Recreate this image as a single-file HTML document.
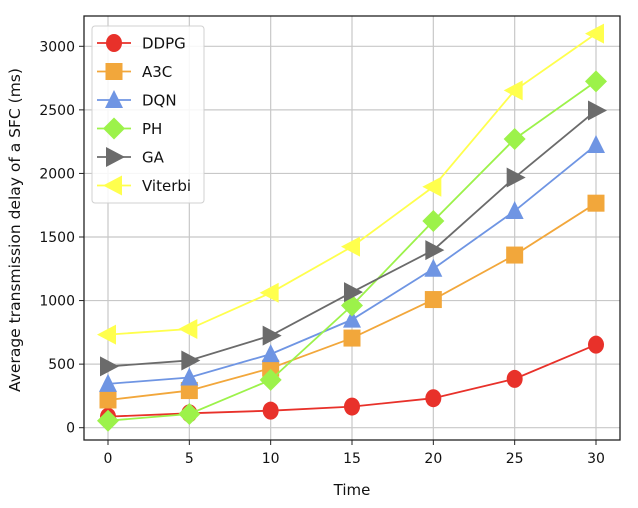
<!DOCTYPE html>
<html><head><meta charset="utf-8"><style>
body{margin:0;background:#fff}
svg{display:block;font-family:"DejaVu Sans","Liberation Sans",sans-serif}
</style></head><body>
<svg id="chart" width="638" height="508" viewBox="0 0 638 508">
<g id="grid"></g>
<g id="series"></g>
<rect x="84" y="16" width="536" height="424" fill="none" stroke="#222" stroke-width="1.3"/>
<g id="ticks"></g>
<text x="352" y="495" font-size="15" text-anchor="middle" fill="#111">Time</text>
<text x="0" y="0" font-size="15.5" text-anchor="middle" fill="#111" transform="translate(20,230) rotate(-90)">Average transmission delay of a SFC (ms)</text>
<g id="legend"></g>
</svg>
<script>
const categories=[0,5,10,15,20,25,30];
const xTicks=[0,5,10,15,20,25,30];
const yTicks=[0,500,1000,1500,2000,2500,3000];
const seriesNames=["DDPG","A3C","DQN","PH","GA","Viterbi"];
const ddpg=[87,113,134,166,232,384,653];
const a3c=[218,292,468,705,1008,1358,1766];
const dqn=[345,395,579,850,1250,1705,2224];
const ph=[55,108,376,961,1626,2271,2724];
const ga=[482,529,724,1066,1397,1968,2495];
const viterbi=[732,776,1061,1424,1895,2653,3100];
const colors=["#e8312a","#f2a73b","#6f95e3","#9cf24a","#6b6b6b","#ffff4d"];
const markers=["circle","square","tri-up","diamond","tri-right","tri-left"];
const allSeries=[ddpg,a3c,dqn,ph,ga,viterbi];
const NS="http://www.w3.org/2000/svg";
function xS(v){return 108+v*(488/30);}
function yS(v){return 427.7-v*(381.4/3000);}
function mk(tag,attrs,parent){const e=document.createElementNS(NS,tag);for(const k in attrs)e.setAttribute(k,attrs[k]);parent.appendChild(e);return e;}
function marker(type,cx,cy,color,parent){
  let e;
  if(type==="circle")e=mk("ellipse",{cx:cx,cy:cy,rx:8,ry:9,fill:color},parent);
  else if(type==="square")e=mk("rect",{x:cx-8.5,y:cy-8.5,width:17,height:17,fill:color},parent);
  else{let p;
    if(type==="tri-up")p=[[cx,cy-10],[cx-9,cy+8],[cx+9,cy+8]];
    else if(type==="diamond")p=[[cx,cy-11],[cx+11,cy],[cx,cy+11],[cx-11,cy]];
    else if(type==="tri-right")p=[[cx+11,cy],[cx-8,cy-10],[cx-8,cy+10]];
    else p=[[cx-11,cy],[cx+8,cy-10],[cx+8,cy+10]];
    e=mk("polygon",{points:p.map(q=>q.join(",")).join(" "),fill:color},parent);}
  return e;
}
const grid=document.getElementById("grid"),ticks=document.getElementById("ticks");
xTicks.forEach(t=>{
  const l=mk("line",{x1:xS(t),x2:xS(t),y1:16,y2:440,stroke:"#c8c8c8","stroke-width":1.2},grid);
  
  
  mk("line",{x1:xS(t),x2:xS(t),y1:440,y2:445,stroke:"#222"},ticks);
  const tx=mk("text",{x:xS(t),y:463,"font-size":14,"text-anchor":"middle",fill:"#111"},ticks);
  tx.textContent=t;
  
  
});
yTicks.forEach(t=>{
  const l=mk("line",{x1:84,x2:620,y1:yS(t),y2:yS(t),stroke:"#c8c8c8","stroke-width":1.2},grid);
  
  
  mk("line",{x1:79,x2:84,y1:yS(t),y2:yS(t),stroke:"#222"},ticks);
  const tx=mk("text",{x:75,y:yS(t)+5,"font-size":14,"text-anchor":"end",fill:"#111"},ticks);
  tx.textContent=t;
  
  
});
const sg=document.getElementById("series");
allSeries.forEach((vals,i)=>{
  const g=mk("g",{},sg);
  
  
  const pl=mk("polyline",{points:vals.map((v,j)=>xS(categories[j])+","+yS(v)).join(" "),fill:"none",stroke:colors[i],"stroke-width":1.8},g);
  
  
  vals.forEach((v,j)=>{
    const m=marker(markers[i],xS(categories[j]),yS(v),colors[i],g);
    
    
  });
});
const lg=document.getElementById("legend");
const box=mk("rect",{x:92,y:26,width:112,height:177,rx:3,fill:"#fff","fill-opacity":0.85,stroke:"#d0d0d0"},lg);


seriesNames.forEach((n,i)=>{
  const y=43+i*28.5;
  const g=mk("g",{},lg);
  
  
  mk("line",{x1:97,x2:131,y1:y,y2:y,stroke:colors[i],"stroke-width":1.8},g);
  marker(markers[i],114,y,colors[i],g);
  const t=mk("text",{x:142,y:y+5.5,"font-size":15,fill:"#111"},g);
  t.textContent=n;
});
</script>
</body></html>
